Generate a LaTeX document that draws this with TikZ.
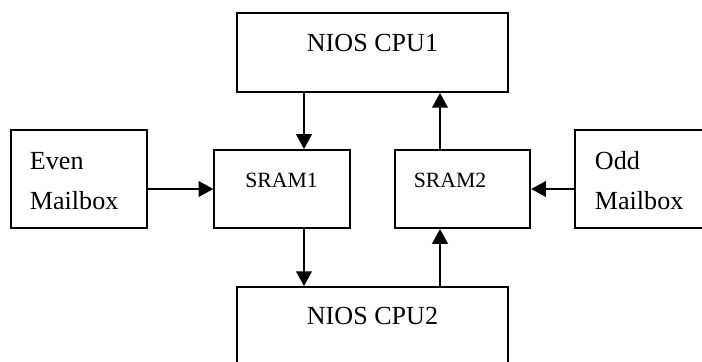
\documentclass[tikz,border=0pt]{standalone}
\usepackage{fontspec}
\setmainfont{Liberation Serif}
\usetikzlibrary{arrows.meta, positioning, calc}

\begin{document}
\begin{tikzpicture}[x=0.46pt, y=-0.46pt, line width=0.9pt,
  box/.style={draw, rectangle, inner sep=0pt},
  cpubox/.style={box, minimum width=124.7pt, minimum height=36.3pt},
  mailbox/.style={box, minimum width=62.6pt, minimum height=45.1pt},
  srambox/.style={box, minimum width=62.3pt, minimum height=35.9pt},
  bigtxt/.style={inner sep=0pt, font=\fontsize{12}{18.4}\selectfont, align=left},
  smalltxt/.style={inner sep=0pt, font=\fontsize{10}{12}\selectfont},
  arr/.style={-{Triangle[width=7.2pt,length=6.8pt]}}]
\useasboundingbox (0,0) rectangle (702,362);
\clip (0,0) rectangle (702,362);

% boxes
\node[cpubox] (cpu1) at (372.5,52.5) {};
\node[cpubox] (cpu2) at (372.5,326.5) {};
\node[mailbox] (even) at (79,179) {};
\node[mailbox] (odd) at (643,179) {};
\node[srambox] (sram1) at (282,189) {};
\node[srambox] (sram2) at (462.5,189) {};

% texts
\node[bigtxt, anchor=base] at ($(cpu1.north)+(0,39)$) {NIOS CPU1};
\node[bigtxt, anchor=base] at ($(cpu2.north)+(0,38)$) {NIOS CPU2};
\node[bigtxt, anchor=base west] at ($(even.north west)+(19,80)$) {Even\\Mailbox};
\node[bigtxt, anchor=base west] at ($(odd.north west)+(20,80)$) {Odd\\Mailbox};
\node[smalltxt, anchor=base west] at ($(sram1.north west)+(31,38)$) {SRAM1};
\node[smalltxt, anchor=base west] at ($(sram2.north west)+(19,38)$) {SRAM2};

% connectors
\coordinate (s1top) at ($(sram1.north)+(22,0)$);
\coordinate (s1bot) at ($(sram1.south)+(22,0)$);
\coordinate (s2top) at ($(sram2.north)+(-22.5,0)$);
\coordinate (s2bot) at ($(sram2.south)+(-22.5,0)$);
\draw[arr] (cpu1.south -| s1top) -- (s1top);
\draw[arr] (s2top) -- (cpu1.south -| s2top);
\draw[arr] (s1bot) -- (cpu2.north -| s1bot);
\draw[arr] (cpu2.north -| s2bot) -- (s2bot);
\draw[arr] (even.east |- sram1.west) -- (sram1.west);
\draw[arr] (odd.west |- sram2.east) -- (sram2.east);
\end{tikzpicture}
\end{document}
